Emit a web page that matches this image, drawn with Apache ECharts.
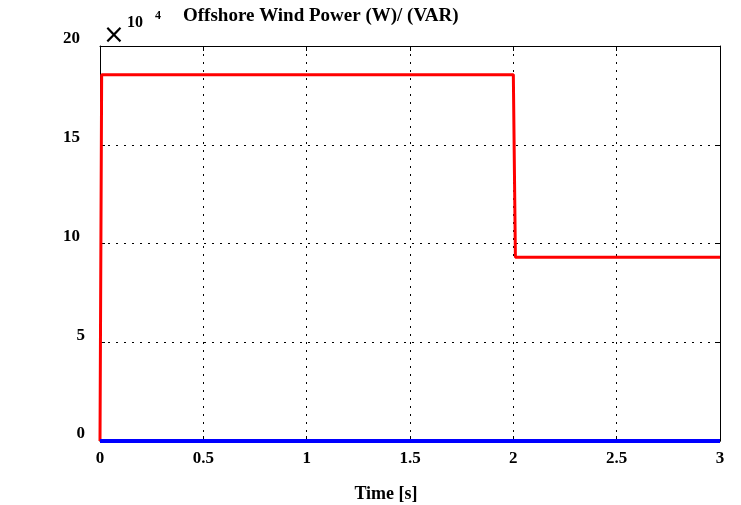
<!DOCTYPE html>
<html>
<head>
<meta charset="utf-8">
<script src="https://cdn.jsdelivr.net/npm/echarts@6/dist/echarts.min.js"></script>
<style>
  html, body { margin: 0; padding: 0; background: #fff; }
  #chart { width: 741px; height: 505px; }
</style>
</head>
<body>
<div id="chart"></div>
<script>
// values in units of 10^4
const activePower = [[0, 0], [0.008, 18.55], [2.0, 18.55], [2.01, 9.3], [3, 9.3]]
const reactivePower = [[0, 0], [3, 0]]
const xTicks = [0, 0.5, 1, 1.5, 2, 2.5, 3]
const yTicks = [0, 5, 10, 15, 20]

const chart = echarts.init(document.getElementById("chart"))
const font = "Liberation Serif"
const frameAxis = {
  axisLine: { show: true, onZero: false, lineStyle: { color: "#000", width: 1 } },
  axisTick: { show: true, inside: true, length: 5, lineStyle: { color: "#000" } },
  axisLabel: { show: false },
  splitLine: { show: false }
}
const yLabelStyle = { fontFamily: font, fontWeight: "bold", fontSize: 17, color: "#000", lineHeight: 14 }

const options = {
  animation: false,
  backgroundColor: "#fff",
  title: {
    text: "Offshore Wind Power (W)/ (VAR)",
    left: 178,
    top: 2,
    textStyle: { fontFamily: font, fontWeight: "bold", fontSize: 19, color: "#000" }
  },
  graphic: [
    { type: "text", left: 103, top: 23, style: { text: "\u00d7", font: "26px 'DejaVu Sans'", fill: "#000" } },
    { type: "text", left: 127, top: 15, style: { text: "10", font: "bold 16px 'Liberation Serif'", fill: "#000" } },
    { type: "text", left: 155, top: 10, style: { text: "4", font: "bold 12px 'Liberation Serif'", fill: "#000" } }
  ],
  grid: { left: 100, right: 21, top: 46, bottom: 64, outerBoundsMode: "none" },
  xAxis: [
    {
      type: "value",
      min: 0,
      max: 3,
      interval: 0.5,
      name: "Time [s]",
      nameLocation: "middle",
      nameGap: 44,
      nameTextStyle: { fontFamily: font, fontWeight: "bold", fontSize: 18, color: "#000", padding: [0, 48, 0, 0] },
      axisLine: { show: true, onZero: false, lineStyle: { color: "#000", width: 1 } },
      axisTick: { show: true, inside: true, length: 5, lineStyle: { color: "#000" } },
      axisLabel: {
        margin: 9,
        fontFamily: font,
        fontWeight: "bold",
        fontSize: 17,
        color: "#000",
        customValues: xTicks,
        formatter: v => String(v)
      },
      splitLine: { show: true, lineStyle: { color: "#000", type: [2, 6], width: 1 } }
    },
    Object.assign({ type: "value", position: "top", min: 0, max: 3, interval: 0.5 }, frameAxis)
  ],
  yAxis: [
    {
      type: "value",
      min: 0,
      max: 20,
      interval: 5,
      axisLine: { show: true, onZero: false, lineStyle: { color: "#000", width: 1 } },
      axisTick: { show: true, inside: true, length: 5, lineStyle: { color: "#000" } },
      axisLabel: {
        margin: 15,
        verticalAlign: "bottom",
        customValues: yTicks,
        formatter: v => (v >= 10 ? "{d|" + v + "}" : "{s|" + v + "}"),
        rich: {
          d: Object.assign({ padding: [0, 5, 0, 0] }, yLabelStyle),
          s: Object.assign({}, yLabelStyle)
        }
      },
      splitLine: { show: true, lineStyle: { color: "#000", type: [2, 6], width: 1 } }
    },
    Object.assign({ type: "value", position: "right", min: 0, max: 20, interval: 5 }, frameAxis)
  ],
  series: [
    {
      name: "P",
      type: "line",
      data: activePower,
      showSymbol: false,
      lineStyle: { color: "#ff0000", width: 3 },
      z: 3
    },
    {
      name: "Q",
      type: "line",
      data: reactivePower,
      showSymbol: false,
      lineStyle: { color: "#0000ff", width: 4 },
      z: 4
    }
  ]
}
chart.setOption(options)
</script>
</body>
</html>
